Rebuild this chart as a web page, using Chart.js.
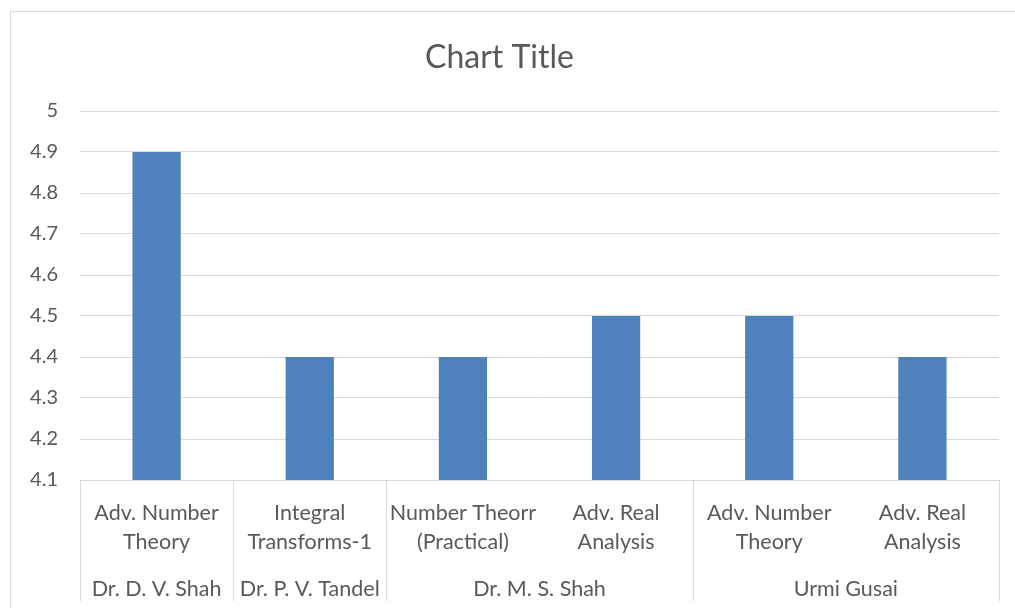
<!DOCTYPE html>
<html>
<head>
<meta charset="utf-8">
<script src="https://cdn.jsdelivr.net/npm/chart.js@4"></script>
<style>
  body { margin: 0; background: white; }
  #wrap { width: 1015px; height: 608px; position: relative; }
</style>
</head>
<body>
<div id="wrap"><canvas id="score-chart"></canvas></div>
<script>
let subjects = [
    ['Adv. Number', 'Theory'],
    ['Integral', 'Transforms-1'],
    ['Number Theorr', '(Practical)'],
    ['Adv. Real', 'Analysis'],
    ['Adv. Number', 'Theory'],
    ['Adv. Real', 'Analysis']
];
let teachers = ['Dr. D. V. Shah', 'Dr. P. V. Tandel', 'Dr. M. S. Shah', 'Urmi Gusai'];
let teacherSpans = [1, 1, 2, 2];
let scores = [4.9, 4.4, 4.4, 4.5, 4.5, 4.4];

let yMin = 4.1;
let yMax = 5;
let yStep = 0.1;

let fontFamily = 'Lato, "Open Sans", sans-serif';
let textColor = '#595959';
let lineColor = '#d9d9d9';

// group centres and boundaries, in category index units
let groupCenters = [];
let groupEdges = [-0.5];
let start = 0;
teacherSpans.forEach((span) => {
    groupCenters.push(start + (span - 1) / 2);
    start += span;
    groupEdges.push(start - 0.5);
});

let frameAndDividers = {
    id: 'frameAndDividers',
    beforeDraw: (chart) => {
        let ctx = chart.ctx;
        ctx.save();
        ctx.strokeStyle = lineColor;
        ctx.lineWidth = 1;
        ctx.strokeRect(10.5, 11.5, 1200, 900);
        ctx.restore();
    },
    afterDraw: (chart) => {
        let ctx = chart.ctx;
        let x2 = chart.scales.x2;
        let top = chart.chartArea.bottom;
        ctx.save();
        ctx.strokeStyle = lineColor;
        ctx.lineWidth = 1;
        groupEdges.forEach((edge) => {
            let px = Math.round(x2.getPixelForValue(edge)) + 0.5;
            ctx.beginPath();
            ctx.moveTo(px, top);
            ctx.lineTo(px, 601);
            ctx.stroke();
        });
        ctx.restore();
    }
};

let scoreCfg = {
    type: 'bar',
    data: {
        labels: subjects,
        datasets: [{
            label: 'Score',
            data: scores,
            backgroundColor: '#4f81bd',
            borderWidth: 0,
            categoryPercentage: 1,
            barPercentage: 0.315
        }]
    },
    options: {
        responsive: true,
        maintainAspectRatio: false,
        animation: false,
        layout: {
            padding: { left: 0, right: 16, top: 0, bottom: 0 }
        },
        plugins: {
            legend: { display: false },
            tooltip: { enabled: false },
            title: {
                display: true,
                text: 'Chart Title',
                color: textColor,
                font: { family: fontFamily, size: 32, weight: 'normal' },
                padding: { top: 38, bottom: 34.6 }
            }
        },
        scales: {
            x: {
                type: 'category',
                position: 'bottom',
                weight: 0,
                grid: { display: false },
                border: { display: true, color: lineColor },
                ticks: {
                    color: textColor,
                    font: { family: fontFamily, size: 21.5, lineHeight: 1.35 },
                    maxRotation: 0,
                    autoSkip: false,
                    padding: 11
                },
                afterFit: (scale) => { scale.height = 84; }
            },
            x2: {
                type: 'linear',
                position: 'bottom',
                weight: 1,
                offset: false,
                min: -0.5,
                max: subjects.length - 0.5,
                grid: { display: false },
                border: { display: false },
                afterBuildTicks: (scale) => {
                    scale.ticks = groupCenters.map((v) => ({ value: v }));
                },
                ticks: {
                    color: textColor,
                    font: { family: fontFamily, size: 21.5 },
                    maxRotation: 0,
                    autoSkip: false,
                    padding: 4,
                    callback: (value) => teachers[groupCenters.indexOf(value)]
                },
                afterFit: (scale) => { scale.height = 44; }
            },
            y: {
                min: yMin,
                max: yMax,
                grid: { color: lineColor, drawTicks: false },
                border: { display: false },
                ticks: {
                    stepSize: yStep,
                    color: textColor,
                    font: { family: fontFamily, size: 20 },
                    padding: 22,
                    callback: (value) => String(Number(value.toFixed(1)))
                },
                afterFit: (scale) => { scale.width = 80; }
            }
        }
    },
    plugins: [frameAndDividers]
};

let scoreChart = new Chart(document.getElementById('score-chart'), scoreCfg);
</script>
</body>
</html>
